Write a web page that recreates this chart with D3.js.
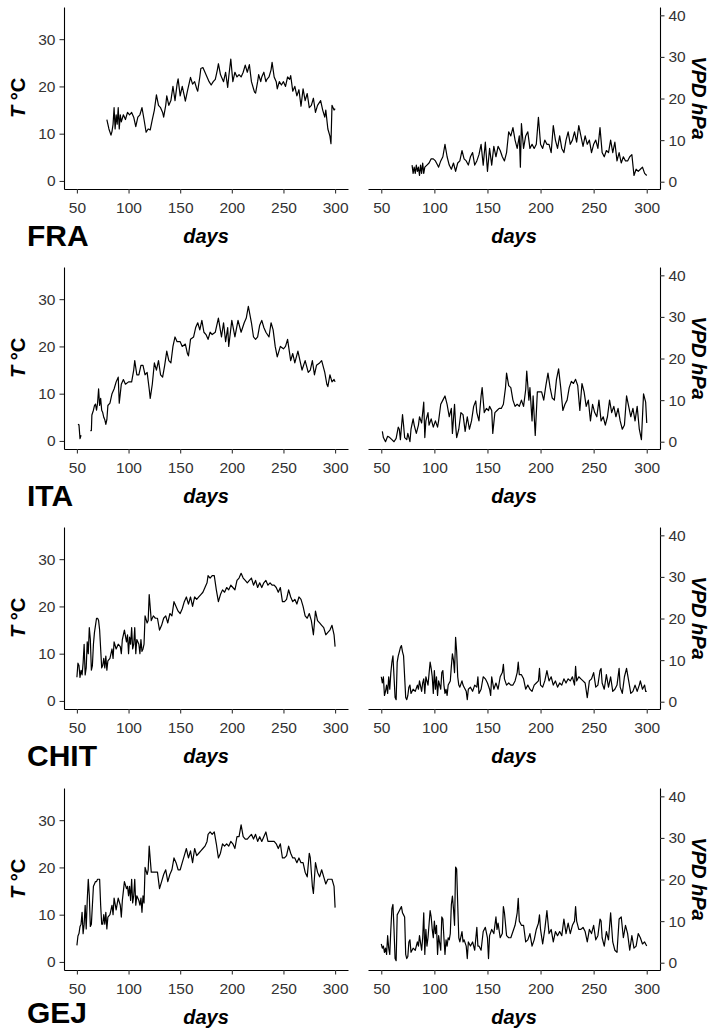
<!DOCTYPE html>
<html>
<head>
<meta charset="utf-8">
<script src="https://cdn.jsdelivr.net/npm/d3@7"></script>
<style>
  body { margin: 0; background: #fff; }
  svg { display: block; }
</style>
</head>
<body>
<script>
// Sites shown one per row, temperature on the left, VPD on the right
const sites = ["FRA", "ITA", "CHIT", "GEJ"];
const dayTicks = [50, 100, 150, 200, 250, 300];
const tempTicks = [0, 10, 20, 30];
const vpdTicks = [0, 10, 20, 30, 40];

// Daily mean air temperature (°C), [day of year, value]; null marks missing days
const fraTemp = [[79,13],[81,11],[83,9.7],[84,10.5],[85,12],[86,15.5],[87,11],[88,14],[89,12],[90,15.5],[91,11],[92,14],[93,12.5],[95,14],[97,13],[99,14.5],[101,14],[103,14.5],[105,13.5],[107,11.5],[109,13.5],[111,14],[113,15.5],[115,13],[117,10.3],[119,11],[121,10.8],[123,13],[125,15],[127,18.2],[129,16],[131,15.5],[133,14.5],[134,13.5],[136,16],[137,18],[139,16],[141,17],[143,20],[145,17],[147,20.5],[148,21.6],[150,18],[152,20],[154,18],[155,16.9],[157,19],[160,21.9],[162,20.5],[164,21],[166,19.5],[167,19],[169,22],[170,23.8],[172,24],[174,23],[176,22],[178,21],[180,20.3],[182,21],[184,21.5],[186,23.5],[187,24.8],[189,22.5],[190,22],[192,21],[194,23],[196,19.8],[197,22],[199,25.8],[201,21],[203,23],[205,22],[207,22.5],[209,22],[211,23],[213,24.5],[215,23],[217,24.6],[219,21],[221,19.5],[222,18.8],[223,18.6],[225,21],[226,22.5],[228,21],[229,22],[231,23],[233,21],[234,21.5],[236,22],[238,23.5],[239,25.1],[241,22],[243,21],[244,19.5],[246,21],[248,20.3],[250,21],[252,20],[254,22],[256,21.5],[257,22.3],[259,19],[261,20],[263,18],[265,19.3],[267,15.8],[269,19.5],[271,17],[273,18.5],[275,15.5],[277,16],[279,17.5],[281,14.5],[283,16],[286,17],[288,15],[290,13.5],[291,15],[293,11],[295,9.5],[296,7.9],[297,16],[299,15],[300,15.3]];
const itaTemp = [[51,3.5],[52,3.4],[53,0.5],[54,1.2],[55,null],[63,2.2],[64,2.2],[64.5,5.5],[66,6.5],[67,7.5],[68,7.8],[69,6.5],[70,8],[71,11],[72,7.5],[73,9],[74,6.5],[75,6],[76,5],[77,4.5],[78,3.5],[79,4.5],[80,7.5],[82,8],[84,10],[86,11],[88,12.5],[90,13.5],[91,8],[93,12],[95,13],[97,12],[100,12.5],[103,12.5],[105,15],[106,17],[108,14],[110,14],[112,16],[114,16],[116,14],[118,14.5],[120,11],[121,9],[123,12],[125,16.5],[127,15],[129,17],[131,14],[133,13.5],[135,16],[137,19],[139,17],[141,16.5],[143,20],[145,22],[147,21],[150,21],[152,20],[155,20.5],[157,18.5],[158,18],[160,21.5],[163,22],[165,24],[167,25],[169,23.5],[171,25.5],[173,23],[175,22.5],[177,21.5],[179,23],[181,22.5],[184,23],[187,26],[190,22],[192,25],[194,21],[196,24],[197,20],[200,25.5],[203,22],[206,25.5],[209,23],[212,25],[214,26],[216,28.5],[219,25],[221,22],[223,21.5],[225,22],[227,24.5],[229,25.5],[231,24],[233,23],[236,22],[238,25],[240,23.5],[242,20],[244,17.8],[247,20],[250,19.5],[252,20],[254,21.5],[257,17],[259,18.5],[261,16.5],[264,19],[266,17],[268,15],[271,17],[274,14.5],[276,15],[278,17],[280,14],[282,16],[285,16.5],[287,17],[290,14.5],[292,12],[293,11.5],[295,14],[297,12.5],[299,13],[300,12.5]];
const chitTemp = [[50,5],[51,8],[52,7.5],[53,5],[54,6.5],[55,5.5],[56,8],[57,12],[58,5.5],[59,7],[60,12.5],[61,10],[62,15.5],[63,13],[64,6.5],[65,7.5],[66,12],[67,14.5],[68,16],[69,17.5],[70,17.5],[71,17],[72,15],[73,11],[74,7],[75,7.5],[76,9],[77,7],[78,9.5],[79,6.5],[80,8.5],[82,9],[84,11],[85,9],[86,12.5],[88,11],[90,12],[92,11.5],[93,10],[94,13],[96,15],[98,12.5],[99,14],[100,10],[101,13.5],[102,12],[103,15.5],[104,11],[105,12],[106,15.5],[107,10],[108,13],[110,12],[111,10],[112,13],[113,10.5],[114,11],[115,12],[116,18],[118,16.5],[119,17],[120,22.5],[122,17],[124,18],[126,17.5],[128,17.5],[130,15],[132,16],[134,17.5],[136,18],[138,16.5],[140,18.5],[142,18],[144,21],[146,20],[148,19],[150,18.5],[152,19.5],[154,21],[156,22],[158,20.5],[160,22],[162,20],[164,22],[166,21.5],[168,22],[170,22.5],[172,23],[174,24],[176,25],[177,26.5],[179,26],[181,26.5],[183,26.5],[185,23.5],[187,21],[189,22.5],[191,23.5],[193,23],[195,24],[197,23.5],[199,24.5],[201,24],[203,23.5],[205,25.5],[207,26],[209,27],[211,26],[213,25.5],[215,25],[217,25.5],[219,26],[221,24.5],[223,25.5],[225,24],[227,25],[229,24],[231,25],[233,25.5],[235,24.5],[237,25],[239,24.5],[241,24.5],[243,24],[245,23],[247,24],[249,21],[251,21],[253,21.5],[255,23.5],[257,22],[259,21],[261,21.5],[263,20.5],[265,22],[267,21.5],[269,20],[271,18],[273,17.5],[275,18.5],[277,17],[279,14],[281,19],[283,17],[285,16.5],[287,16],[289,15.5],[291,14],[293,14.5],[295,15],[297,16],[299,14],[300,11.5]];
const gejTemp = [[50,3.5],[51,5.5],[52,6],[53,7.5],[54,8],[55,10.5],[56,6],[57,8],[58,12],[59,7],[60,13],[61,17.5],[62,14],[63,7.5],[64,8],[65,12],[66,16],[67,16.5],[68,17],[69,17],[70,17.5],[71,17.5],[72,17.5],[73,12],[74,8],[75,8],[76,10],[77,8],[78,10.5],[79,7],[80,9.5],[82,10],[84,12],[85,10],[86,13.5],[88,11],[90,13.5],[92,12],[93,9.5],[94,13],[96,17],[98,15.5],[99,16],[100,14],[101,16],[102,13],[103,17.5],[104,12.5],[105,14],[106,17.5],[107,12],[108,14],[110,13],[111,12],[112,13.5],[113,10.5],[114,14],[115,12.5],[116,20],[118,18.5],[119,19.5],[120,24.5],[122,19],[124,19],[126,19],[128,19],[130,15.5],[132,17],[134,18.5],[136,19.5],[138,17],[140,18.5],[142,19.5],[144,22],[146,21],[148,19.5],[150,19.5],[152,21],[154,22.5],[156,24],[158,22],[160,23.5],[162,21],[164,24],[166,22.5],[168,23],[170,23.5],[172,24],[174,24.5],[176,25.5],[177,27],[179,27.5],[181,27],[183,27.5],[185,25],[187,22],[189,23],[191,25],[193,24.5],[195,25],[197,24.5],[199,25.5],[201,25],[203,24],[205,26.5],[207,26.5],[209,29],[211,26.5],[213,26],[215,26],[217,26.5],[219,27],[221,26],[223,27],[225,25.5],[227,26.5],[229,25.5],[231,26.5],[233,27.5],[235,25.5],[237,25.5],[239,25.5],[241,25.5],[243,25],[245,24],[247,25],[249,22],[251,22],[253,22.5],[255,24.5],[257,23],[259,22],[261,22],[263,21],[265,22],[267,21],[269,21],[271,19],[273,18],[275,23],[276,22],[278,16],[279,14.5],[281,21],[283,19],[285,18],[287,19.5],[289,18],[291,16.5],[293,17.5],[295,17.5],[297,17.5],[299,16],[300,11.5]];

// Daily vapour pressure deficit (hPa), [day of year, value]
const fraVpd = [[79,4],[80,2],[81,3.5],[82,2],[83,4],[84,2.5],[85,3.5],[86,1.5],[87,4],[88,2],[89,4.5],[90,2],[91,3.5],[93,4],[95,4.5],[97,5.5],[99,5.5],[101,5],[103,4],[104,3.5],[106,5],[108,6],[110,9],[112,6],[114,4],[116,3],[118,4.5],[120,2.5],[122,4.5],[124,5],[126,7.5],[128,5.5],[130,5],[132,4],[134,6],[136,7],[138,4],[140,5],[142,6.5],[144,9],[146,4],[148,9.5],[150,2.5],[152,8],[154,4],[156,8.5],[158,6],[160,8.5],[162,7.5],[164,6],[166,5],[168,7],[170,12],[172,11],[174,13],[176,10],[178,8],[180,11],[181,3.5],[182,14],[184,8],[186,11],[188,12],[190,8],[192,9],[194,8],[196,9],[198,15.5],[200,9],[202,8],[204,10],[206,9],[208,9],[210,7],[212,13.5],[214,10],[216,8],[218,11],[220,8],[222,7],[224,10],[226,12],[228,9],[230,10],[232,12],[234,9.5],[236,13.5],[238,11],[240,8.5],[242,11],[244,9],[246,10],[248,7],[250,9],[252,10],[254,8],[256,13],[258,7],[260,6],[262,7.5],[264,7],[266,10],[268,7],[270,9.5],[272,5],[274,7],[276,4.5],[278,6],[280,5],[282,5],[284,6],[286,6.5],[288,1.5],[290,3],[292,2.5],[294,3],[296,3.5],[298,2],[300,1.5]];
const itaVpd = [[51,2.5],[52,1],[54,0],[56,1.3],[58,1],[60,0.5],[62,0],[64,0.8],[66,3.5],[67,3],[68,0.5],[70,6.5],[71,4],[72,1],[74,0.5],[75,2],[77,0],[78,3],[80,5.5],[81,4],[83,2],[85,4],[86,6],[88,4.5],[90,9.5],[91,1],[92,5],[94,7],[95,4],[97,5.5],[99,3.5],[101,5],[103,3.5],[104,5],[106,9],[108,10],[110,11],[112,9],[114,6],[116,8],[117,2],[119,9],[120,4],[121,1],[123,3],[125,7],[127,6.5],[129,2.5],[131,6],[133,3],[135,5],[137,8.5],[139,9.8],[140,7],[142,5],[144,11],[145,13],[147,7],[149,8],[151,7.5],[152,8.5],[154,7.5],[155,2],[157,7],[159,7.5],[161,8],[163,8],[165,9],[167,13],[168,16.5],[170,13.5],[172,13],[174,10],[176,8.5],[178,9],[180,8.5],[182,10],[184,8.5],[186,12.5],[187,17],[189,10],[190,13],[192,5],[193,11],[195,1.5],[197,12],[199,12],[201,12],[203,10],[205,13.5],[207,16.5],[209,13],[211,10.5],[213,10],[215,15],[217,17.5],[219,13],[221,7.5],[223,9],[225,10],[227,13],[229,14.5],[231,14],[233,15],[235,13.5],[237,7.5],[239,14],[241,12],[243,8.5],[245,10],[247,5],[249,9],[251,7],[253,6],[255,10],[257,5],[259,6],[261,4],[263,6],[265,10],[267,7],[269,8.5],[271,6],[273,8],[275,5],[277,3],[279,4],[281,11],[283,8.5],[285,6],[287,8],[289,5],[291,8.5],[293,3],[295,0.5],[297,11.5],[299,9.5],[300,4.5]];
const chitVpd = [[50,6],[51,4.5],[52,6],[53,1.5],[54,2.5],[55,4],[56,2],[57,6],[58,3],[59,7],[60,9.5],[61,11],[62,6],[63,1],[64,0.5],[65,9.5],[66,11],[67,12],[68,13],[69,13.5],[70,12],[71,11],[72,6],[73,1],[74,0.5],[75,1.5],[76,3.5],[77,4],[78,2],[80,3],[82,2.5],[84,4],[85,3],[86,5],[88,2.5],[89,4.5],[90,5.5],[91,2],[92,6],[94,4],[96,9.5],[97,8],[98,6],[99,2],[100,7.5],[101,3],[102,6],[103,1.5],[104,5],[106,3],[107,7],[108,7.5],[109,4],[110,2],[111,3],[112,1.5],[113,4],[114,4.5],[115,5],[116,8.5],[117,11.5],[118,10],[119,7],[120,15.5],[121,12],[122,6],[123,4],[124,3.5],[126,5],[127,4],[128,3.5],[130,2.5],[131,0.5],[132,3],[134,3.5],[136,2.5],[138,4],[140,3.5],[141,6],[142,2],[144,3],[146,6],[148,5.5],[150,4.5],[152,3],[153,1.5],[154,6],[156,3],[158,4.5],[160,3],[162,6],[164,7],[165,9],[166,5.5],[168,4],[170,4.5],[172,4],[174,4],[176,5],[178,7],[179,9.5],[180,6.5],[182,6.5],[184,5.5],[186,3],[188,4],[190,3],[192,2.5],[194,4],[196,4.5],[198,5],[199,8],[200,4],[202,3.5],[204,5],[206,7.5],[208,5],[210,6],[212,4],[214,5],[216,3.5],[218,4.5],[220,4],[222,5.5],[224,4.5],[226,5.5],[228,5],[230,6],[232,4],[233,8.5],[234,5],[236,6],[238,5.5],[240,5],[242,4.5],[244,1],[246,5],[248,5.5],[250,7],[252,3.5],[254,4],[256,7.5],[257,8],[258,4.5],[260,3],[262,6.5],[264,3.5],[266,6],[268,2.5],[270,3],[272,4],[274,8],[275,3.5],[277,2],[279,6],[281,8],[283,5],[285,2],[287,2.5],[289,4],[291,2.5],[293,4],[294,5],[296,3],[298,4],[299,2.5],[300,2.5]];
const gejVpd = [[50,4.5],[51,3.5],[52,4],[53,2.5],[54,3.5],[55,2],[56,6.5],[57,3.5],[58,2],[59,8],[60,13],[61,14],[62,8],[63,1],[64,0.5],[65,11.5],[66,12],[67,12.5],[68,13],[69,13.5],[70,12],[71,11.5],[72,11],[73,2],[74,1],[75,1.5],[76,5],[77,5.5],[78,2.5],[80,3.5],[82,3],[84,5],[85,4],[86,6.5],[88,3],[89,6],[90,12],[91,2],[92,8],[93,4],[94,6],[96,12.5],[97,11],[98,8],[99,6],[100,10],[101,7],[102,9],[103,2],[104,6.5],[106,3],[107,11],[108,10.5],[109,6],[110,2],[111,5.5],[112,4],[113,6],[114,5.5],[115,7],[116,14],[117,16],[118,13],[119,9],[120,23],[121,22.5],[122,14],[123,6],[124,5],[126,7.5],[127,5],[128,5.5],[130,4],[131,1],[132,5],[134,4],[136,5],[138,3],[140,8.5],[141,4],[142,4],[144,3],[146,7.5],[148,8.5],[150,6],[151,1],[152,6.5],[154,8],[156,7],[158,11],[159,8],[160,9.5],[162,6],[164,7],[165,13.5],[166,12],[168,6.5],[170,6],[172,6],[174,7.5],[176,9],[178,12],[179,15.5],[180,10],[182,9],[184,9],[186,5],[188,5.5],[190,7],[192,4],[194,5.5],[196,8],[198,9.5],[199,11.5],[200,8],[202,4.5],[204,8],[206,12.5],[208,7],[210,8],[212,5],[214,7.5],[216,6.5],[218,7.5],[220,6.5],[222,10.5],[224,7],[226,9.5],[228,7],[230,9],[232,10],[233,13.5],[234,10],[236,8],[238,8],[240,8.5],[242,7.5],[244,5],[246,8],[248,7],[250,9],[252,5.5],[254,6.5],[256,10.5],[257,10],[258,6],[260,4],[262,7.5],[264,5.5],[266,12],[268,5],[270,3],[272,2.5],[274,10.5],[276,11],[278,6],[280,9],[282,7],[284,3],[286,6.5],[288,3.5],[290,4],[292,7],[294,6],[296,4.5],[298,5],[299,4.5],[300,4]];

const tempSeries = [fraTemp, itaTemp, chitTemp, gejTemp];
const vpdSeries = [fraVpd, itaVpd, chitVpd, gejVpd];

// ---- layout ----
const W = 717, H = 1029;
const rowTop = [7, 267, 527, 788];
const plotH = 182;
const leftX = [64, 348];
const rightX = [368, 660];
const FONT = "'Liberation Sans', Arial, Helvetica, sans-serif";
const TICK_COL = "#333";

const svg = d3.select("body").append("svg")
  .attr("width", W).attr("height", H)
  .style("font-family", FONT);

const xLeft = d3.scaleLinear().domain([37.5, 312.5]).range(leftX);
const xRight = d3.scaleLinear().domain([37.5, 312.5]).range(rightX);

function styleAxis(g) {
  g.select(".domain").attr("stroke", "#000").attr("stroke-width", 1.1);
  g.selectAll(".tick line").attr("stroke", TICK_COL).attr("stroke-width", 1.1);
  g.selectAll(".tick text").attr("fill", TICK_COL).style("font-size", "15.5px");
}

const lineGen = (x, y) => d3.line()
  .defined(d => d[1] != null)
  .x(d => x(d[0]))
  .y(d => y(d[1]));

sites.forEach((site, i) => {
  const top = rowTop[i], bottom = top + plotH;
  const yT = d3.scaleLinear().domain([-1.7, 36.8]).range([bottom, top]);
  const yV = d3.scaleLinear().domain([-1.75, 42]).range([bottom, top]);

  // --- temperature panel ---
  const gl = svg.append("g");
  gl.append("g").attr("transform", `translate(0,${bottom})`)
    .call(d3.axisBottom(xLeft).tickValues(dayTicks).tickSize(4.5).tickPadding(8).tickSizeOuter(0))
    .call(styleAxis);
  gl.append("g").attr("transform", `translate(${leftX[0]},0)`)
    .call(d3.axisLeft(yT).tickValues(tempTicks).tickSize(4.5).tickPadding(4).tickSizeOuter(0))
    .call(styleAxis);
  gl.append("path").datum(tempSeries[i])
    .attr("fill", "none").attr("stroke", "#000").attr("stroke-width", 1.2)
    .attr("stroke-linejoin", "round")
    .attr("d", lineGen(xLeft, yT));

  // y title: italic T, upright °C
  const tl = gl.append("text")
    .attr("transform", `translate(25,${(top + bottom) / 2}) rotate(-90)`)
    .attr("text-anchor", "middle")
    .style("font-size", "20px").style("font-weight", "bold").attr("fill", "#000");
  tl.append("tspan").style("font-style", "italic").text("T");
  tl.append("tspan").text(" °C");

  gl.append("text")
    .attr("x", (leftX[0] + leftX[1]) / 2).attr("y", bottom + 54)
    .attr("text-anchor", "middle")
    .style("font-size", "20px").style("font-weight", "bold").style("font-style", "italic")
    .text("days");

  // site name, kept inside the page at the last row
  gl.append("text")
    .attr("x", 27).attr("y", Math.min(bottom + 57, H - 6))
    .style("font-size", "30px").style("font-weight", "bold")
    .text(site);

  // --- VPD panel ---
  const gr = svg.append("g");
  gr.append("g").attr("transform", `translate(0,${bottom})`)
    .call(d3.axisBottom(xRight).tickValues(dayTicks).tickSize(4.5).tickPadding(8).tickSizeOuter(0))
    .call(styleAxis);
  gr.append("g").attr("transform", `translate(${rightX[1]},0)`)
    .call(d3.axisRight(yV).tickValues(vpdTicks).tickSize(4.5).tickPadding(4).tickSizeOuter(0))
    .call(styleAxis);
  gr.append("path").datum(vpdSeries[i])
    .attr("fill", "none").attr("stroke", "#000").attr("stroke-width", 1.2)
    .attr("stroke-linejoin", "round")
    .attr("d", lineGen(xRight, yV));

  gr.append("text")
    .attr("transform", `translate(692,${(top + bottom) / 2}) rotate(90)`)
    .attr("text-anchor", "middle")
    .style("font-size", "20px").style("font-weight", "bold").style("font-style", "italic")
    .text("VPD hPa");

  gr.append("text")
    .attr("x", (rightX[0] + rightX[1]) / 2).attr("y", bottom + 54)
    .attr("text-anchor", "middle")
    .style("font-size", "20px").style("font-weight", "bold").style("font-style", "italic")
    .text("days");
});
</script>
</body>
</html>
